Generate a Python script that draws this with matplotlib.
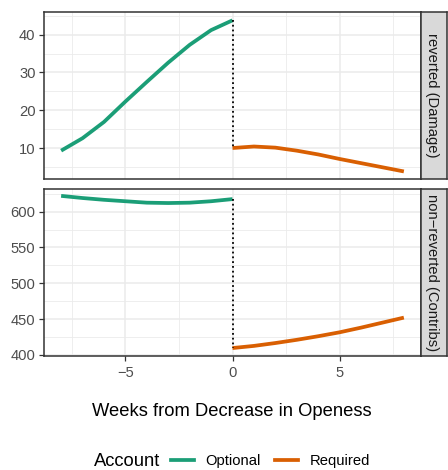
import matplotlib
matplotlib.use("Agg")
import matplotlib.pyplot as plt
from matplotlib.ticker import MultipleLocator
from matplotlib.lines import Line2D

plt.rcParams['font.family'] = ['Liberation Sans', 'DejaVu Sans']

# data
weeks_before = [-8, -7, -6, -5, -4, -3, -2, -1, 0]
weeks_after = [0, 1, 2, 3, 4, 5, 6, 7, 8]

damage_optional = [9.3, 12.6, 16.9, 22.3, 27.5, 32.6, 37.3, 41.2, 43.8]
damage_required = [10.0, 10.4, 10.1, 9.3, 8.3, 7.1, 6.0, 4.9, 3.8]
contribs_optional = [622, 619, 616.5, 614.5, 612.5, 612, 612.5, 614.5, 617.5]
contribs_required = [409.5, 412.5, 416.5, 421, 426, 431.5, 438, 445, 452]

panel_labels = ["reverted (Damage)", "non\u2212reverted (Contribs)"]
account_labels = ["Optional", "Required"]
colors = {"Optional": "#1B9E77", "Required": "#D95F02"}

SMALL = 10.6
BIG = 13.2
LW = 2.7

W, H = 448, 470
fig = plt.figure(figsize=(W / 100, H / 100), dpi=100)


def px_axes(left, top, right, bottom):
    return fig.add_axes([left / W, 1 - bottom / H, (right - left) / W, (bottom - top) / H])


def style_panel(ax, ymaj, ymin, ylim, show_x):
    ax.set_xlim(-8.8, 8.8)
    ax.set_ylim(*ylim)
    ax.xaxis.set_major_locator(MultipleLocator(5))
    ax.xaxis.set_minor_locator(MultipleLocator(2.5))
    ax.yaxis.set_major_locator(MultipleLocator(ymaj))
    ax.yaxis.set_minor_locator(MultipleLocator(ymin))
    ax.grid(True, which="major", color="#EBEBEB", lw=1.1)
    ax.grid(True, which="minor", color="#EBEBEB", lw=0.6)
    ax.set_axisbelow(True)
    for s in ax.spines.values():
        s.set_color("#333333")
        s.set_linewidth(1.1)
    ax.tick_params(which="major", length=3.5, width=0.9, color="#333333",
                   labelsize=SMALL, labelcolor="#4D4D4D", pad=2.6)
    ax.tick_params(axis="x", which="major", pad=3.8)
    ax.tick_params(which="minor", length=0)
    if not show_x:
        ax.tick_params(axis="x", which="both", length=0, labelbottom=False)
    return ax


def strip(top, bottom, label):
    sax = px_axes(421, top, 447, bottom)
    sax.set_facecolor("#D9D9D9")
    sax.set_xticks([])
    sax.set_yticks([])
    for s in sax.spines.values():
        s.set_color("#333333")
        s.set_linewidth(1.1)
    sax.text(0.42, 0.5, label, rotation=-90, ha="center", va="center",
             fontsize=SMALL, color="#1A1A1A", transform=sax.transAxes)


ax1 = px_axes(44, 12, 421, 179)
ax1.plot(weeks_before, damage_optional, color=colors["Optional"], lw=LW, solid_capstyle="butt")
ax1.plot(weeks_after, damage_required, color=colors["Required"], lw=LW, solid_capstyle="butt")
ax1.plot([weeks_before[-1], weeks_after[0]], [damage_optional[-1], damage_required[0]],
         color="black", ls=":", lw=1.3)
style_panel(ax1, 10, 5, (1.8, 46.0), False)
strip(12, 179, panel_labels[0])

ax2 = px_axes(44, 189, 421, 356)
ax2.plot(weeks_before, contribs_optional, color=colors["Optional"], lw=LW, solid_capstyle="butt")
ax2.plot(weeks_after, contribs_required, color=colors["Required"], lw=LW, solid_capstyle="butt")
ax2.plot([weeks_before[-1], weeks_after[0]], [contribs_optional[-1], contribs_required[0]],
         color="black", ls=":", lw=1.3)
style_panel(ax2, 50, 25, (398.4, 631.6), True)
ax2.set_xticks([-5, 0, 5])
ax2.set_xticklabels(["\u22125", "0", "5"])
strip(189, 356, panel_labels[1])

fig.text(232 / W, 1 - 411 / H, "Weeks from Decrease in Openess", ha="center", va="center",
         fontsize=BIG, color="black")

fig.text(94 / W, 1 - 461.5 / H, "Account", ha="left", va="center", fontsize=BIG, color="black")
handles = [Line2D([], [], color=colors[a], lw=LW) for a in account_labels]
fig.legend(handles, account_labels, loc="center left", bbox_to_anchor=(171 / W, 1 - 461.5 / H),
           ncol=2, frameon=False, fontsize=SMALL, handlelength=1.56, handletextpad=0.8,
           columnspacing=0.95, borderpad=0, borderaxespad=0)

fig.savefig("out.png", dpi=100)
